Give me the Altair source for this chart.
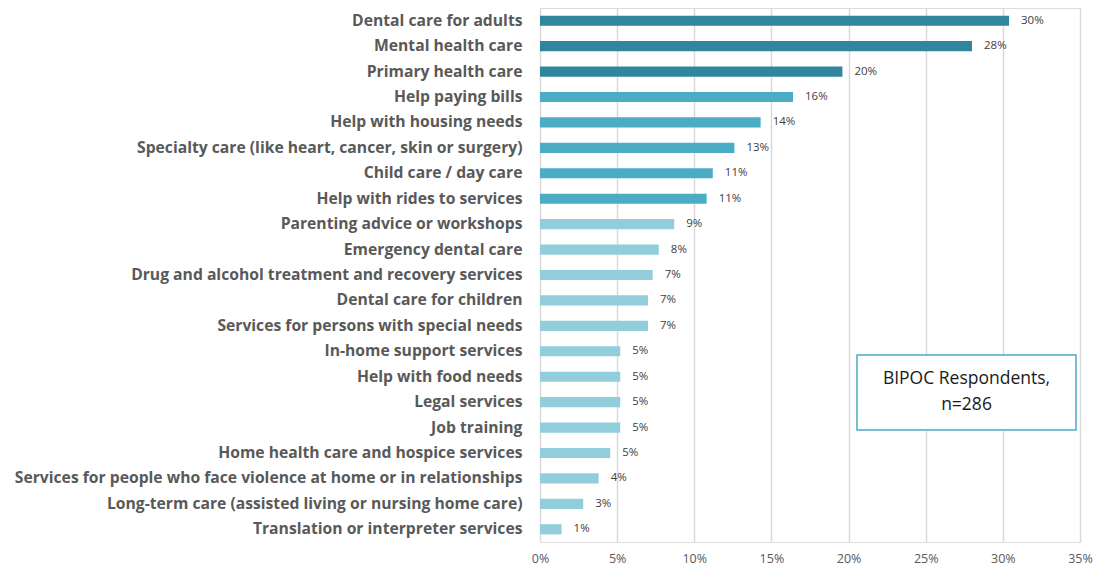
import altair as alt
import pandas as pd

categories = [
    "Dental care for adults",
    "Mental health care",
    "Primary health care",
    "Help paying bills",
    "Help with housing needs",
    "Specialty care (like heart, cancer, skin or surgery)",
    "Child care / day care",
    "Help with rides to services",
    "Parenting advice or workshops",
    "Emergency dental care",
    "Drug and alcohol treatment and recovery services",
    "Dental care for children",
    "Services for persons with special needs",
    "In-home support services",
    "Help with food needs",
    "Legal services",
    "Job training",
    "Home health care and hospice services",
    "Services for people who face violence at home or in relationships",
    "Long-term care (assisted living or nursing home care)",
    "Translation or interpreter services",
]
values = [0.304, 0.280, 0.196, 0.164, 0.143, 0.126, 0.112, 0.108, 0.087, 0.077,
          0.073, 0.070, 0.070, 0.052, 0.052, 0.052, 0.052, 0.0455, 0.038, 0.028, 0.014]
tiers = ["high"] * 3 + ["mid"] * 5 + ["low"] * 13
tier_colors = {"high": "#31859C", "mid": "#4BACC6", "low": "#92CDDC"}
note_lines = ["BIPOC Respondents,", "n=286"]
x_ticks = [0, 0.05, 0.10, 0.15, 0.20, 0.25, 0.30, 0.35]

df = pd.DataFrame({"category": categories, "value": values, "tier": tiers})

W, H = 540, 534
FONT = "Open Sans"

y_enc = alt.Y("category:N", sort=categories, title=None,
              scale=alt.Scale(paddingInner=0.6, paddingOuter=0.3),
              axis=alt.Axis(labelFont=FONT, labelFontWeight="bold", labelFontSize=15.7,
                            labelColor="#595959", labelPadding=18, ticks=False,
                            domain=False, labelLimit=600))
x_enc = alt.X("value:Q", title=None,
              scale=alt.Scale(domain=[0, 0.35], nice=False),
              axis=alt.Axis(values=x_ticks, format=".0%", labelFont=FONT,
                            labelFontSize=12.5, labelColor="#595959", ticks=False,
                            domain=False, grid=True, gridColor="#D9D9D9",
                            gridWidth=1.5, labelPadding=10, labelFlush=False))

bars = alt.Chart(df).mark_bar().encode(
    y=y_enc, x=x_enc,
    color=alt.Color("tier:N", scale=alt.Scale(domain=list(tier_colors.keys()),
                                              range=list(tier_colors.values())),
                    legend=None),
)

labels = alt.Chart(df).mark_text(align="left", dx=12, font=FONT, fontSize=11.5,
                                 color="#404040").encode(
    y=alt.Y("category:N", sort=categories),
    x="value:Q",
    text=alt.Text("value:Q", format=".0%"),
)

note_df = pd.DataFrame({"t": [note_lines]})
box = alt.Chart(note_df).mark_rect(fill="white", stroke="#4BACC6", strokeWidth=1.5).encode(
    x=alt.value(317), x2=alt.value(536), y=alt.value(347), y2=alt.value(422)
)
note = alt.Chart(note_df).mark_text(font=FONT, fontSize=17.5, color="#1a1a1a",
                                    lineHeight=26, baseline="middle").encode(
    x=alt.value(426.5), y=alt.value(371), text="t"
)

chart = alt.layer(bars, labels, box, note).properties(
    width=W, height=H,
    autosize=alt.AutoSizeParams(type="none"),
    padding={"left": 532, "top": 0, "right": 15, "bottom": 26},
).configure_view(stroke=None).configure(background="white")

chart.save("out.html", embed_options={"renderer": "svg", "actions": False})
